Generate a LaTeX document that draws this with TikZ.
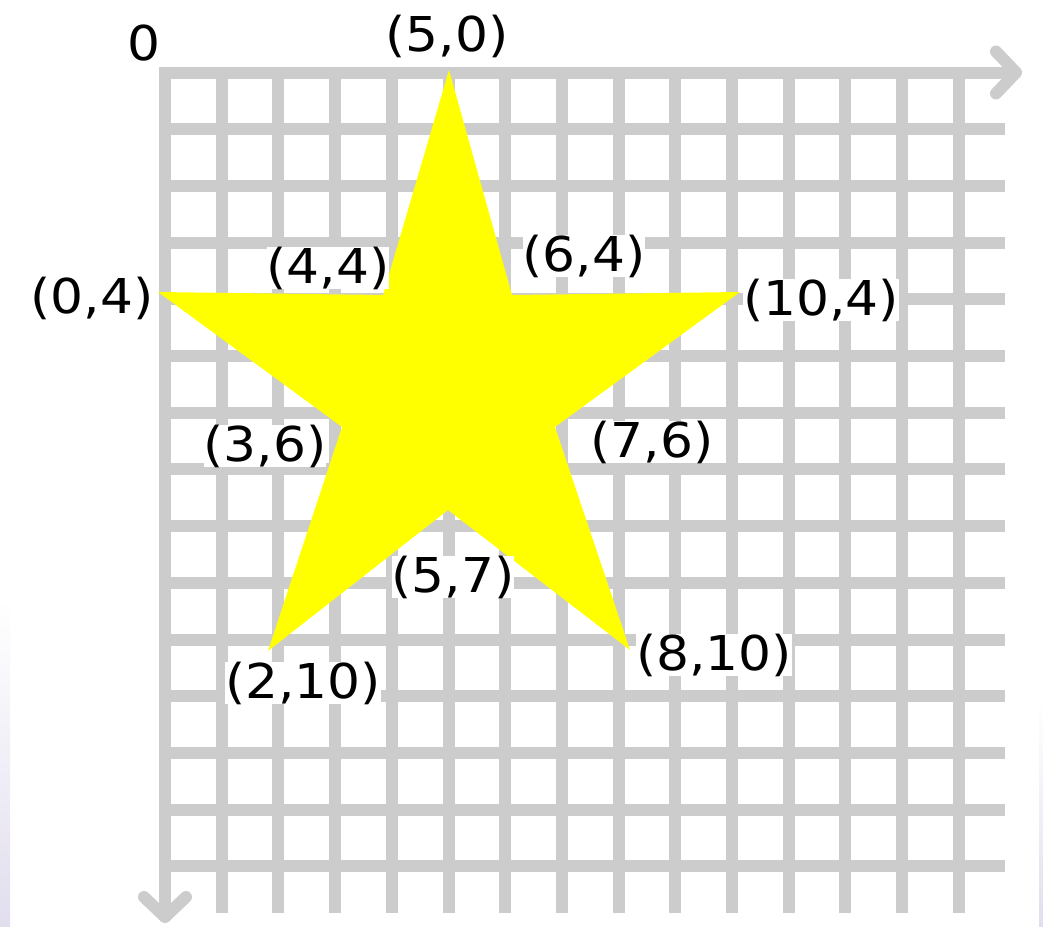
\documentclass[tikz,border=0pt]{standalone}
\usepackage{fontspec}
\setmainfont{DejaVu Sans}[FakeStretch=1.08]
\usetikzlibrary{arrows.meta}

\definecolor{gridgray}{RGB}{204,204,204}
\definecolor{staryellow}{RGB}{255,255,0}
\definecolor{edgelilac}{RGB}{226,222,238}

\begin{document}
\begin{tikzpicture}[
    x=1pt, y=-1pt,
    gridline/.style={draw=gridgray, line width=12pt},
    axis/.style={gridline, -{Straight Barb[length=20pt, width=42pt, round]}},
    coordlabel/.style={fill=white, inner sep=0pt, font=\fontsize{48}{56}\selectfont},
]
\useasboundingbox (0,0) rectangle (1043,926);

% Screen edge shading
\shade[top color=white, bottom color=edgelilac] (0,600) rectangle (10,926);
\shade[top color=white, bottom color=edgelilac] (1039,700) rectangle (1043,926);

% Grid
\def\gx{165}   % first column
\def\gy{72.5}  % first row
\def\gs{56.7}  % spacing
\foreach \i in {1,...,14} {
    \draw[gridline] (\gx+\i*\gs, 66.5) -- (\gx+\i*\gs, 913);
}
\foreach \j in {1,...,14} {
    \draw[gridline] (159, \gy+\j*\gs) -- (1005, \gy+\j*\gs);
}

% Axes
\coordinate (xstart) at (159,\gy);
\coordinate (xend) at (1022,\gy);
\coordinate (ystart) at (\gx,66.5);
\coordinate (yend) at (\gx,923);
\draw[axis] (xstart) -- (xend);
\draw[axis] (ystart) -- (yend);

% Star corners
\coordinate (p50) at (449,70);
\coordinate (p64) at (512,295);
\coordinate (p104) at (740,292);
\coordinate (p76) at (555,427);
\coordinate (p810) at (630,650);
\coordinate (p57) at (448,510);
\coordinate (p210) at (268,651);
\coordinate (p36) at (342,427);
\coordinate (p04) at (158,292);
\coordinate (p44) at (383,295);
\fill[staryellow] (p50) -- (p64) -- (p104) -- (p76) -- (p810) -- (p57)
    -- (p210) -- (p36) -- (p04) -- (p44) -- cycle;

% Labels
\node[coordlabel] (zero) at (144,43) {0};
\node[coordlabel] (l50) at (447,36) {(5,0)};
\node[coordlabel] (l44) at (328,268) {(4,4)};
\node[coordlabel] (l64) at (584,256) {(6,4)};
\node[coordlabel] (l04) at (92,298) {(0,4)};
\node[coordlabel] (l104) at (821,300) {(10,4)};
\node[coordlabel] (l36) at (265,446) {(3,6)};
\node[coordlabel] (l76) at (652,442) {(7,6)};
\node[coordlabel] (l57) at (453,577) {(5,7)};
\node[coordlabel] (l810) at (714,655) {(8,10)};
\node[coordlabel] (l210) at (303,683) {(2,10)};

\end{tikzpicture}
\end{document}
